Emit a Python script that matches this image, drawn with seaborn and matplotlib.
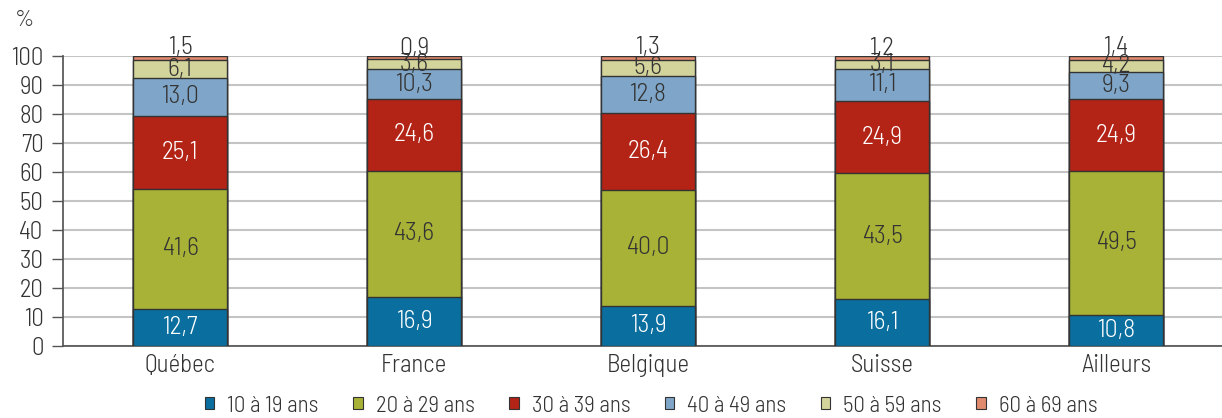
import matplotlib.pyplot as plt
import numpy as np
import pandas as pd
import seaborn as sns
from matplotlib.patches import Patch

regions = ["Québec", "France", "Belgique", "Suisse", "Ailleurs"]
groups = ["10 à 19 ans", "20 à 29 ans", "30 à 39 ans", "40 à 49 ans", "50 à 59 ans", "60 à 69 ans"]

age_10_19 = [12.7, 16.9, 13.9, 16.1, 10.8]
age_20_29 = [41.6, 43.6, 40.0, 43.5, 49.5]
age_30_39 = [25.1, 24.6, 26.4, 24.9, 24.9]
age_40_49 = [13.0, 10.3, 12.8, 11.1, 9.3]
age_50_59 = [6.1, 3.6, 5.6, 3.1, 4.2]
age_60_69 = [1.5, 0.9, 1.3, 1.2, 1.4]

colors = ["#0a6e9e", "#a8b236", "#b32417", "#7fa6c8", "#d3d49b", "#e08a6e"]
text_colors = ["white", "#333333", "white", "#333333", "#333333", "#333333"]

sns.set_theme(style="white")
plt.rcParams["font.family"] = ["Barlow Semi Condensed", "Barlow Condensed", "DejaVu Sans"]
plt.rcParams["font.weight"] = 300

values = np.array([age_10_19, age_20_29, age_30_39, age_40_49, age_50_59, age_60_69])
tops = values.cumsum(axis=0)

fig = plt.figure(figsize=(12.22, 4.18), dpi=100)
ax = fig.add_axes([63 / 1222, 72 / 418, 1 - 63 / 1222, 290 / 418])

# draw from the tallest cumulative bar down so each segment overlays the next
for i in reversed(range(len(groups))):
    df = pd.DataFrame({"region": regions, "top": tops[i]})
    sns.barplot(data=df, x="region", y="top", color=colors[i], width=0.4,
                edgecolor="#333333", linewidth=1, errorbar=None, ax=ax, zorder=3,
                saturation=1)

for i in range(len(groups)):
    for j in range(len(regions)):
        v = values[i, j]
        label = f"{v:.1f}".replace(".", ",")
        if i == len(groups) - 1:
            y = tops[i, j] + 0.6
            va = "baseline"
        else:
            y = tops[i, j] - v / 2
            va = "center"
        ax.text(j, y, label, ha="center", va=va, fontsize=18.5,
                color=text_colors[i], zorder=5, clip_on=False)

ax.set_xlim(-0.5, -0.5 + (1222 - 63) / 234)
ax.set_ylim(0, 100)
ax.set_yticks(np.arange(0, 101, 10))
ax.yaxis.grid(True, color="#c4c4c4", linewidth=1.5, zorder=0)
ax.set_axisbelow(True)
ax.set_xlabel("")
ax.set_ylabel("")
ax.set_xticks(range(len(regions)))
ax.set_xticklabels(regions)
ax.set_xticks([-0.5, 0.5, 1.5, 2.5, 3.5], minor=True)
ax.tick_params(axis="x", which="major", length=0, labelsize=18, pad=6, colors="#333333")
ax.tick_params(axis="x", which="minor", length=6, width=1, color="#555555")
ax.tick_params(axis="y", length=8, width=1, color="#555555", labelsize=18,
               pad=6, labelcolor="#333333", left=True)
for s in ["top", "right"]:
    ax.spines[s].set_visible(False)
ax.spines["left"].set_color("#555555")
ax.spines["bottom"].set_color("#555555")

fig.text(15 / 1222, 1 - 21 / 418, "%", fontsize=17, color="#333333", va="center")

handles = [Patch(facecolor=c, edgecolor="#333333", linewidth=0.8) for c in colors]
fig.legend(handles, groups, loc="center", bbox_to_anchor=(651 / 1222, 1 - 406 / 418),
           ncol=6, frameon=False, fontsize=16.5, handlelength=0.42, handleheight=0.42,
           handletextpad=0.57, columnspacing=1.5, labelcolor="#333333")

fig.savefig("out.png", dpi=100)
